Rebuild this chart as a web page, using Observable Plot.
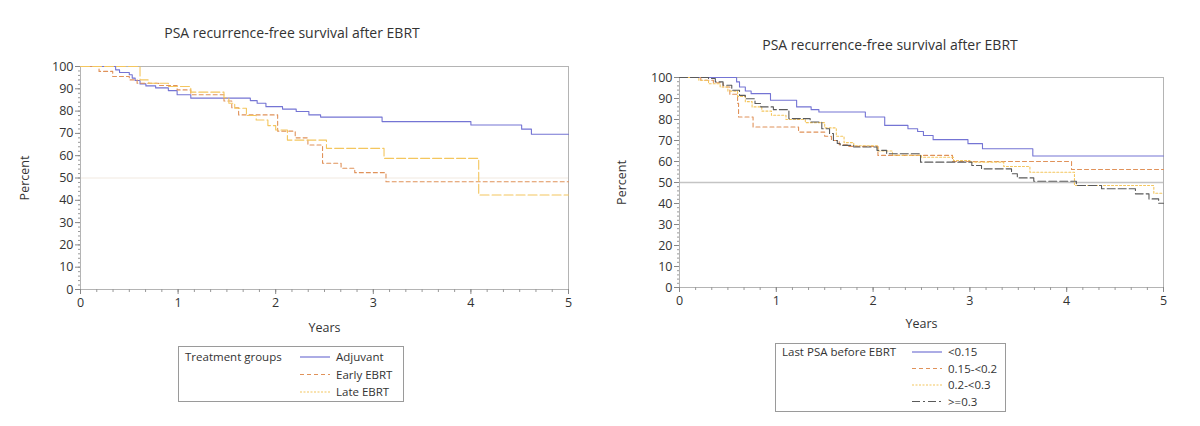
<!DOCTYPE html>
<html>
<head>
<meta charset="utf-8">
<script src="https://cdn.jsdelivr.net/npm/d3@7"></script>
<script src="https://cdn.jsdelivr.net/npm/@observablehq/plot@0.6"></script>
<style>
  body { margin: 0; background: #fff; }
  #root { position: relative; width: 1200px; height: 426px; background: #fff; font-family: "Open Sans", sans-serif; color: #333; overflow: hidden; }
  .title { position: absolute; font-size: 14px; text-align: center; color: #333; }
  .chart { position: absolute; }
  .legend { position: absolute; }
</style>
</head>
<body>
<div id="root"></div>
<script>
// ---------- Data: left chart (treatment groups) ----------
const leftTitle = "PSA recurrence-free survival after EBRT";
const leftLegendTitle = "Treatment groups";
const leftGroups = ["Adjuvant", "Early EBRT", "Late EBRT"];

const adjuvantYears = [0, 0.36, 0.40, 0.50, 0.53, 0.56, 0.61, 0.67, 0.77, 0.90, 0.99, 1.13, 1.74, 1.81, 1.90, 2.07, 2.21, 2.34, 2.46, 3.09, 4.00, 4.52, 4.62, 5.0];
const adjuvantPct   = [100, 98.5, 97.3, 96.3, 94.8, 93.7, 92.2, 91.3, 90.4, 89.2, 87.3, 85.8, 84.7, 83.5, 82.0, 80.9, 79.8, 78.3, 77.3, 75.3, 73.8, 71.9, 69.6, 69.6];

const earlyYears = [0, 0.19, 0.33, 0.50, 0.58, 0.80, 0.99, 1.13, 1.47, 1.55, 1.62, 2.02, 2.20, 2.33, 2.48, 2.67, 2.81, 3.13, 5.0];
const earlyPct   = [100, 97.8, 95.5, 94.0, 92.5, 91.5, 89.5, 87.3, 84.5, 81.5, 78.3, 71.0, 68.0, 64.8, 56.6, 54.4, 52.4, 48.3, 48.3];

const lateYears = [0, 0.61, 0.70, 0.90, 1.13, 1.47, 1.52, 1.58, 1.70, 1.80, 1.92, 2.00, 2.12, 2.52, 3.11, 4.08, 5.0];
const latePct   = [100, 94.0, 92.5, 91.0, 88.5, 86.0, 83.5, 81.3, 78.0, 76.0, 73.5, 71.5, 67.0, 63.3, 58.8, 42.4, 42.4];

// ---------- Data: right chart (last PSA before EBRT) ----------
const rightTitle = "PSA recurrence-free survival after EBRT";
const rightLegendTitle = "Last PSA before EBRT";
const psaGroups = ["<0.15", "0.15-<0.2", "0.2-<0.3", ">=0.3"];

const psaAYears = [0, 0.59, 0.62, 0.68, 0.74, 0.94, 1.21, 1.36, 1.44, 1.92, 2.12, 2.36, 2.46, 2.52, 2.62, 2.98, 3.13, 3.65, 5.0];
const psaAPct   = [100, 97.9, 95.5, 93.6, 92.3, 89.2, 86.0, 84.7, 83.6, 81.2, 77.2, 75.6, 74.3, 72.4, 70.4, 68.5, 66.1, 62.6, 62.6];

const psaBYears = [0, 0.22, 0.35, 0.45, 0.52, 0.60, 0.61, 0.76, 1.23, 1.50, 1.57, 1.65, 1.75, 2.05, 2.82, 4.05, 5.0];
const psaBPct   = [100, 98.7, 97.5, 95.5, 92.0, 87.7, 81.2, 76.4, 74.0, 72.0, 70.0, 68.0, 67.2, 62.9, 60.0, 56.2, 56.2];

const psaCYears = [0, 0.20, 0.30, 0.42, 0.50, 0.60, 0.68, 0.75, 0.85, 0.95, 1.10, 1.30, 1.50, 1.62, 1.70, 1.80, 2.05, 2.20, 2.50, 2.83, 3.00, 3.35, 3.62, 4.08, 4.90, 5.0];
const psaCPct   = [100, 98.7, 97.0, 95.5, 93.5, 91.0, 88.5, 86.0, 84.0, 82.0, 80.0, 78.5, 76.0, 72.0, 69.0, 67.5, 65.0, 63.0, 62.0, 60.5, 59.7, 57.6, 54.9, 48.6, 44.9, 44.9];

const psaDYears = [0, 0.30, 0.37, 0.45, 0.54, 0.62, 0.68, 0.78, 0.84, 0.97, 1.13, 1.35, 1.47, 1.55, 1.59, 1.63, 1.66, 1.80, 2.04, 2.14, 2.49, 3.02, 3.12, 3.43, 3.49, 3.66, 4.10, 4.36, 4.71, 4.85, 4.95, 5.0];
const psaDPct   = [100, 99.5, 97.9, 96.3, 93.9, 91.5, 89.9, 87.6, 86.0, 84.7, 80.4, 78.8, 75.6, 73.3, 70.0, 68.6, 67.7, 66.9, 65.3, 63.7, 59.7, 58.1, 56.5, 54.2, 52.2, 50.6, 48.6, 47.0, 44.6, 42.2, 40.1, 40.1];

const xTicks = [0, 1, 2, 3, 4, 5];
const yTicks = [0, 10, 20, 30, 40, 50, 60, 70, 80, 90, 100];

// ---------- helpers ----------
const rows = (years, pct, group) => years.map((t, i) => ({ t, p: pct[i], group }));

const leftSeries = [
  { name: leftGroups[0], data: rows(adjuvantYears, adjuvantPct, leftGroups[0]), color: "#7474d4", dash: null, legendDash: null },
  { name: leftGroups[1], data: rows(earlyYears, earlyPct, leftGroups[1]), color: "#e0925a", dash: "4,3", legendDash: "4,3" },
  { name: leftGroups[2], data: rows(lateYears, latePct, leftGroups[2]), color: "#f4c65e", dash: "9,3", legendDash: "2,1.5" }
];
const rightSeries = [
  { name: psaGroups[0], data: rows(psaAYears, psaAPct, psaGroups[0]), color: "#7474d4", dash: null, legendDash: null },
  { name: psaGroups[1], data: rows(psaBYears, psaBPct, psaGroups[1]), color: "#e0925a", dash: "4,3", legendDash: "4,3" },
  { name: psaGroups[2], data: rows(psaCYears, psaCPct, psaGroups[2]), color: "#f4c65e", dash: "2,2", legendDash: "2,1.5" },
  { name: psaGroups[3], data: rows(psaDYears, psaDPct, psaGroups[3]), color: "#5a5a5a", dash: "8,3", legendDash: "8,3,2,3" }
];

const minorX = d3.range(0, 31).map(i => i / 6);
const minorY = d3.range(0, 101, 2);

function kmChart(series, o) {
  const marks = [
    Plot.ruleY([50], { stroke: o.refColor, strokeWidth: o.refWidth }),
    Plot.frame({ stroke: "#b4b4b4" }),
    Plot.axisX(minorX, { tickSize: 3, tickFormat: () => "", stroke: "#999", label: null }),
    Plot.axisY(minorY, { tickSize: 2, tickFormat: () => "", stroke: "#999", label: null }),
    Plot.axisX(xTicks, { tickSize: 5, stroke: "#888", tickPadding: 4, label: "Years", labelAnchor: "center", labelArrow: "none", labelOffset: o.xLabelOffset }),
    Plot.axisY(yTicks, { tickSize: 5, stroke: "#888", tickPadding: 2, label: "Percent", labelAnchor: "center", labelArrow: "none", labelOffset: o.yLabelOffset })
  ];
  for (const s of series) {
    marks.push(Plot.line(s.data, { x: "t", y: "p", curve: "step-after", stroke: s.color, strokeWidth: 1.1, strokeDasharray: s.dash }));
  }
  return Plot.plot({
    width: o.width, height: o.height,
    marginLeft: o.ml, marginRight: o.mr, marginTop: o.mt, marginBottom: o.mb,
    x: { domain: [0, 5] },
    y: { domain: [0, 100] },
    style: { fontFamily: "Open Sans, sans-serif", fontSize: "12.5px", color: "#333", background: "transparent" },
    marks
  });
}

function legend(title, series, o) {
  const svg = d3.create("svg").attr("width", o.w).attr("height", o.h)
    .style("font-family", "Open Sans, sans-serif").style("font-size", "11.5px");
  svg.append("rect").attr("x", 0.5).attr("y", 0.5).attr("width", o.w - 1).attr("height", o.h - 1)
    .attr("fill", "white").attr("stroke", "#9a9a9a");
  svg.append("text").attr("x", 7).attr("y", o.y0).attr("fill", "#333").text(title);
  series.forEach((s, i) => {
    const y = o.y0 + i * o.dy - 4;
    svg.append("line").attr("x1", o.sx).attr("x2", o.sx + 30).attr("y1", y).attr("y2", y)
      .attr("stroke", s.color).attr("stroke-width", 1.2).attr("stroke-dasharray", s.legendDash);
    svg.append("text").attr("x", o.sx + 36).attr("y", o.y0 + i * o.dy).attr("fill", "#333").text(s.name);
  });
  return svg.node();
}

const root = document.getElementById("root");
function place(node, left, top, cls) {
  node.classList.add(cls);
  node.style.left = left + "px";
  node.style.top = top + "px";
  root.appendChild(node);
}
function titleDiv(text, left, top, width) {
  const d = document.createElement("div");
  d.className = "title";
  d.textContent = text;
  d.style.left = left + "px"; d.style.top = top + "px"; d.style.width = width + "px";
  root.appendChild(d);
}

titleDiv(leftTitle, 0, 23, 584);
titleDiv(rightTitle, 690, 35, 400);

place(kmChart(leftSeries, { width: 590, height: 290, ml: 80, mr: 22, mt: 16, mb: 51, refColor: "#f1e9e0", refWidth: 1, xLabelOffset: 42, yLabelOffset: 60 }), 0, 50, "chart");
place(kmChart(rightSeries, { width: 590, height: 280, ml: 79, mr: 27, mt: 17, mb: 53, refColor: "#c4c4c4", refWidth: 1.5, xLabelOffset: 40, yLabelOffset: 62 }), 600, 60, "chart");

place(legend(leftLegendTitle, leftSeries, { w: 226, h: 56, y0: 15, dy: 17.5, sx: 122 }), 178, 346, "legend");
place(legend(rightLegendTitle, rightSeries, { w: 231, h: 69, y0: 13, dy: 16.5, sx: 137 }), 775, 343, "legend");
</script>
</body>
</html>
